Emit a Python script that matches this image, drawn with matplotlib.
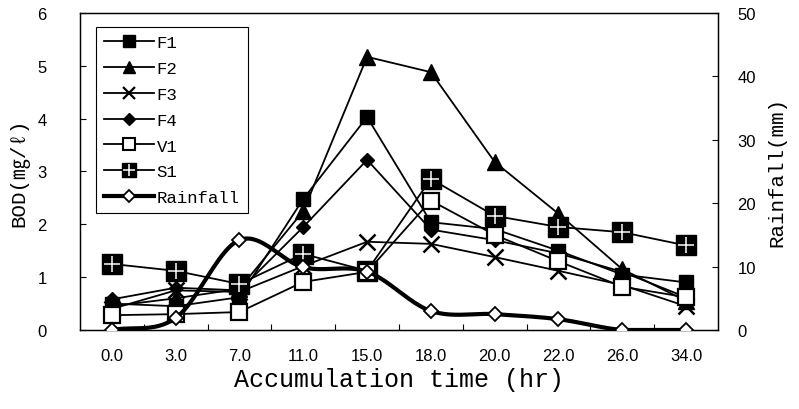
import numpy as np
import matplotlib
matplotlib.use("Agg")
import matplotlib.pyplot as plt
from matplotlib.lines import Line2D
from matplotlib.legend_handler import HandlerTuple

# values
times = ["0.0", "3.0", "7.0", "11.0", "15.0", "18.0", "20.0", "22.0", "26.0", "34.0"]
f1 = [0.50, 0.45, 0.62, 2.48, 4.03, 2.04, 1.91, 1.50, 1.05, 0.90]
f2 = [0.45, 0.60, 0.78, 2.25, 5.17, 4.88, 3.18, 2.20, 1.15, 0.55]
f3 = [0.40, 0.75, 0.72, 1.21, 1.67, 1.63, 1.38, 1.12, 0.85, 0.45]
f4 = [0.58, 0.80, 0.75, 1.95, 3.22, 1.90, 1.70, 1.45, 1.10, 0.62]
v1 = [0.28, 0.30, 0.34, 0.91, 1.10, 2.45, 1.80, 1.30, 0.82, 0.62]
s1 = [1.25, 1.12, 0.87, 1.44, 1.12, 2.86, 2.16, 1.95, 1.85, 1.60]
rainfall = [0.0, 1.9, 14.2, 9.9, 9.2, 3.0, 2.5, 1.7, 0.0, 0.0]

tick_font = "Liberation Sans"
label_font = ["Liberation Mono", "Noto Sans CJK KR", "DejaVu Sans"]


def smooth_line(xs, ys, n=24):
    # Catmull-Rom curve through the points (like Excel's smoothed line)
    xs = np.asarray(xs, float)
    ys = np.asarray(ys, float)
    px = np.concatenate([[2 * xs[0] - xs[1]], xs, [2 * xs[-1] - xs[-2]]])
    py = np.concatenate([[2 * ys[0] - ys[1]], ys, [2 * ys[-1] - ys[-2]]])
    t = np.linspace(0, 1, n, endpoint=False)
    out_x, out_y = [], []
    for i in range(1, len(px) - 2):
        for arr, out in ((px, out_x), (py, out_y)):
            p0, p1, p2, p3 = arr[i - 1:i + 3]
            out.append(0.5 * (2 * p1 + (-p0 + p2) * t
                              + (2 * p0 - 5 * p1 + 4 * p2 - p3) * t ** 2
                              + (-p0 + 3 * p1 - 3 * p2 + p3) * t ** 3))
    out_x.append([xs[-1]])
    out_y.append([ys[-1]])
    return np.concatenate(out_x), np.maximum(np.concatenate(out_y), 0)


x = np.arange(len(times))

fig = plt.figure(figsize=(7.99, 4.10), dpi=100)
ax = fig.add_axes([0.1001, 0.1927, 0.7985, 0.7732])
ax2 = ax.twinx()

lw = 1.3
ax.plot(x, f1, color="black", lw=lw, marker="s", ms=10, mfc="black", mec="black", zorder=3)
ax.plot(x, f2, color="black", lw=lw, marker="^", ms=11, mfc="black", mec="black", zorder=3)
ax.plot(x, f3, color="black", lw=lw, marker="x", ms=11, mew=1.8, mec="black", zorder=3)
ax.plot(x, f4, color="black", lw=lw, marker="D", ms=7.5, mfc="black", mec="black", zorder=3)
ax.plot(x, s1, color="black", lw=lw, marker="s", ms=14, mfc="black", mec="black", zorder=3)
ax.plot(x, s1, ls="none", marker="+", ms=11, mew=1.1, mec="white", zorder=3)
ax.plot(x, v1, color="black", lw=lw, marker="s", ms=11, mfc="white", mec="black", mew=1.6, zorder=4)

sx, sy = smooth_line(x, rainfall)
ax2.plot(sx, sy, color="black", lw=3.0, solid_capstyle="round", zorder=3)
ax2.plot(x, rainfall, ls="none", marker="D", ms=7, mfc="white", mec="black", mew=1.3, zorder=4)

ax.set_xlim(-0.5, len(times) - 0.5)
ax.set_ylim(0, 6)
ax2.set_ylim(0, 50)
ax.set_xticks(x)
ax.set_xticklabels(times, fontfamily=tick_font, fontsize=12)
ax.set_xticks(x[:-1] + 0.5, minor=True)
ax.tick_params(axis="x", which="major", length=0, pad=13)
ax.tick_params(axis="x", which="minor", direction="in", length=4, width=0.8)
ax.set_yticks(range(0, 7))
ax.tick_params(axis="y", direction="in", length=4, width=0.8, pad=24)
ax2.set_yticks(range(0, 51, 10))
ax2.tick_params(axis="y", direction="in", length=4, width=0.8, pad=14)
for lab in ax.get_yticklabels() + ax2.get_yticklabels():
    lab.set_fontfamily(tick_font)
    lab.set_fontsize(12)

for a in (ax, ax2):
    for sp in a.spines.values():
        sp.set_linewidth(0.9)
        sp.set_color("black")

ax.set_xlabel("Accumulation time (hr)", family=label_font, fontsize=18, labelpad=3)
ax.set_ylabel("BOD(㎎/ℓ)", family=label_font, fontsize=15, labelpad=6)
ax2.set_ylabel("Rainfall(mm)", family=label_font, fontsize=15, labelpad=8)

handles = [
    Line2D([], [], color="black", lw=lw, marker="s", ms=8.5, mfc="black", mec="black"),
    Line2D([], [], color="black", lw=lw, marker="^", ms=9, mfc="black", mec="black"),
    Line2D([], [], color="black", lw=lw, marker="x", ms=8.5, mew=1.6, mec="black"),
    Line2D([], [], color="black", lw=lw, marker="D", ms=6.5, mfc="black", mec="black"),
    Line2D([], [], color="black", lw=lw, marker="s", ms=8, mfc="white", mec="black", mew=1.5),
    (Line2D([], [], color="black", lw=lw, marker="s", ms=10.5, mfc="black", mec="black"),
     Line2D([], [], ls="none", marker="+", ms=8, mew=1.1, mec="white")),
    Line2D([], [], color="black", lw=3.0, marker="D", ms=6.5, mfc="white", mec="black", mew=1.3),
]
labels = ["F1", "F2", "F3", "F4", "V1", "S1", "Rainfall"]
leg = ax2.legend(handles, labels, loc="upper left", bbox_to_anchor=(0.025, 0.956),
                 handler_map={tuple: HandlerTuple(ndivide=1, pad=0)},
                 prop={"family": label_font, "size": 12.5}, frameon=True, fancybox=False,
                 edgecolor="black", framealpha=1, handlelength=2.9, handletextpad=0.15,
                 labelspacing=0.62, borderpad=0.45, borderaxespad=0)
leg.get_frame().set_linewidth(0.8)

fig.savefig("out.png", dpi=100)
